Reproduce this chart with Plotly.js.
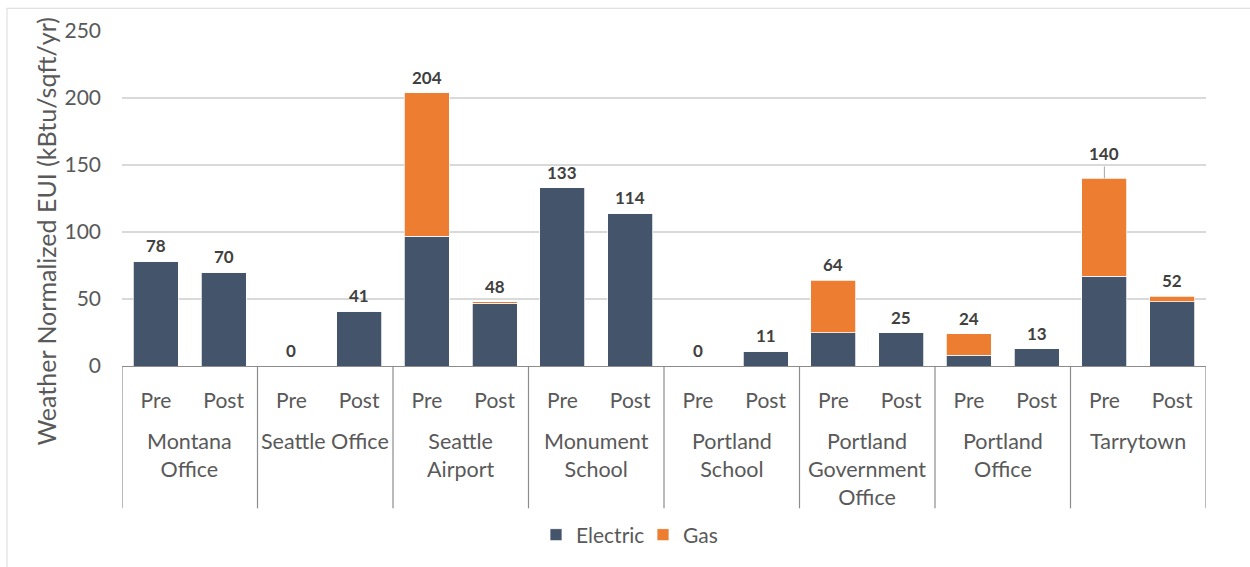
<!DOCTYPE html>
<html>
<head>
<meta charset="utf-8">
<script src="https://cdn.plot.ly/plotly-3.0.1.min.js"></script>
<style>html,body{margin:0;padding:0;background:#fff;}#chart{width:1250px;height:567px;}</style>
</head>
<body>
<div id="chart"></div>
<script>
// ---- data ----
const sites = ["Montana<br>Office", "Seattle Office", "Seattle<br>Airport", "Monument<br>School", "Portland<br>School", "Portland<br>Government<br>Office", "Portland<br>Office", "Tarrytown"];
const phases = ["Pre", "Post"];
const electric = [78, 70, 0, 41, 97, 47, 133, 114, 0, 11, 25, 25, 8, 13, 67, 48];
const gas      = [0, 0, 0, 0, 107, 1, 0, 0, 0, 0, 39, 0, 16, 0, 73, 4];
const totals   = [78, 70, 0, 41, 204, 48, 133, 114, 0, 11, 64, 25, 24, 13, 140, 52];
const yTitle = "Weather Normalized EUI (kBtu/sqft/yr)";

// ---- layout helpers ----
const W = 1250, H = 567, L = 122, R = 1206, T = 31, B = 370;
const px = v => (v - L) / (R - L);
const py = v => (B - v) / (B - T);
const FONT = "Lato, 'Open Sans', sans-serif";
const GRAY = "#595959";

const idx = [];
const tickText = [];
sites.forEach((s, g) => phases.forEach((p, k) => { idx.push(g * phases.length + k); tickText.push(p); }));

const traces = [
  {type: "bar", name: "Electric", x: idx, y: electric, marker: {color: "#44546A", line: {color: "#ffffff", width: 0.75}}, hoverinfo: "y"},
  {type: "bar", name: "Gas", x: idx, y: gas, marker: {color: "#ED7D31", line: {color: "#ffffff", width: 0.75}}, hoverinfo: "y"}
];

const annotations = [];
// value labels
totals.forEach((t, i) => {
  const lead = (i === 14);
  annotations.push({
    x: idx[i], y: t, xref: "x", yref: "y",
    text: "<b>" + t + "</b>",
    showarrow: lead, arrowhead: 0, arrowcolor: "#a6a6a6", arrowwidth: 1, ax: 0, ay: -12,
    xanchor: "center", yanchor: "bottom", yshift: lead ? 0 : 3,
    font: {family: FONT, size: 17, color: "#404040"}
  });
});
// group labels
sites.forEach((s, g) => {
  annotations.push({
    x: g * 2 + 0.5, y: 0, xref: "x", yref: "paper",
    text: s, showarrow: false, xanchor: "center", yanchor: "top", yshift: -60,
    align: "center", font: {family: FONT, size: 21.5, color: GRAY}
  });
});
// y title
annotations.push({
  x: px(46), y: py(234), xref: "paper", yref: "paper", text: yTitle, textangle: -90,
  showarrow: false, xanchor: "center", yanchor: "middle",
  font: {family: FONT, size: 25, color: GRAY}
});

const shapes = [];
for (let g = 0; g <= sites.length; g++) {
  shapes.push({type: "line", xref: "x", yref: "paper", x0: g * 2 - 0.5, x1: g * 2 - 0.5, y0: 0, y1: py(514),
    line: {color: "#8c8c8c", width: 1.2}});
}
// outer chart frame
shapes.push({type: "rect", xref: "paper", yref: "paper", x0: px(7), x1: px(1262), y0: py(8), y1: py(580),
  line: {color: "#d9d9d9", width: 1}, fillcolor: "rgba(0,0,0,0)"});

const layout = {
  width: W, height: H,
  margin: {l: L, r: W - R, t: T, b: H - B, pad: 0},
  barmode: "stack", bargap: 0.336,
  paper_bgcolor: "#ffffff", plot_bgcolor: "#ffffff",
  font: {family: FONT, color: GRAY},
  xaxis: {range: [-0.5, idx.length - 0.5], tickmode: "array", tickvals: idx, ticktext: tickText,
    showgrid: false, zeroline: false, showline: true, linecolor: "#8c8c8c", linewidth: 1.2,
    ticks: "", ticklabelstandoff: 16, tickfont: {family: FONT, size: 21, color: GRAY}, fixedrange: true},
  yaxis: {range: [0, 250], dtick: 50, tick0: 0, showgrid: true, gridcolor: "#d9d9d9", gridwidth: 1.2,
    zeroline: false, showline: false, ticks: "", ticklabelstandoff: 20,
    tickfont: {family: FONT, size: 21, color: GRAY}, fixedrange: true},
  showlegend: true,
  legend: {orientation: "h", x: px(536), xanchor: "left", y: py(541), yanchor: "middle",
    font: {family: FONT, size: 21, color: GRAY}, traceorder: "normal", itemwidth: 30,
    entrywidth: 62, entrywidthmode: "pixels", bgcolor: "rgba(0,0,0,0)"},
  annotations: annotations,
  shapes: shapes
};

Plotly.newPlot("chart", traces, layout, {displayModeBar: false, staticPlot: true});
</script>
</body>
</html>
